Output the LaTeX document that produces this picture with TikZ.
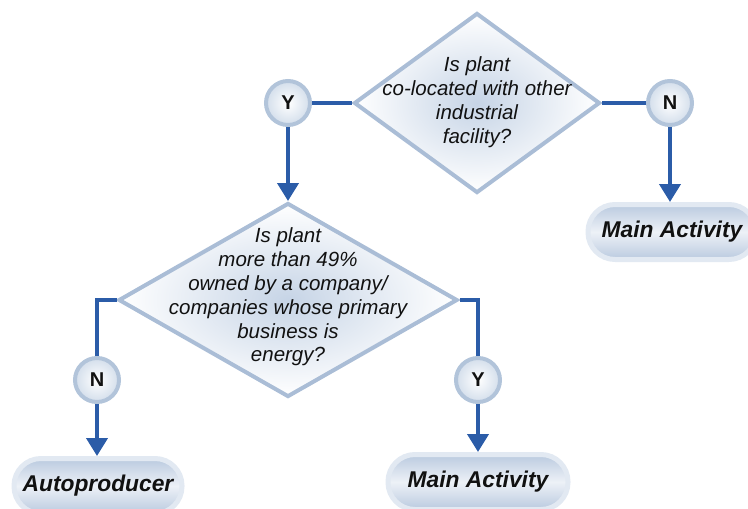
\documentclass[tikz,border=0pt]{standalone}
\usepackage{fontspec}
\setmainfont{Liberation Sans}
\usetikzlibrary{arrows.meta,shapes.geometric,shadings}
\definecolor{lineblue}{HTML}{2B5CA8}
\definecolor{diaedge}{HTML}{AABDD6}
\definecolor{diacore}{HTML}{C6D4E6}
\definecolor{circedge}{HTML}{B2C4DA}
\definecolor{circfill}{HTML}{D3DEEB}
\definecolor{boxhalo}{HTML}{E2E9F2}
\definecolor{boxfill}{HTML}{BACADF}
\definecolor{boxmid}{HTML}{EDF1F7}
\definecolor{txt}{HTML}{111111}
\tikzset{
  dia/.style={shape=diamond, draw=diaedge, line width=4pt, inner sep=0pt,
    inner color=diacore, outer color=white},
  qtext/.style={align=center, text=txt, font=\fontsize{20.5}{23.8}\selectfont\itshape},
  yn/.style={circle, draw=circedge, line width=4pt, minimum size=44pt, inner sep=0pt,
    inner color=white, outer color=circfill, text=txt, font=\fontsize{20}{22}\selectfont\bfseries},
  endbox/.style={rectangle, rounded corners=27pt, draw=boxhalo, line width=5pt,
    minimum height=55pt, inner sep=0pt, top color=boxfill, bottom color=boxfill, middle color=boxmid,
    text=txt, font=\fontsize{22.8}{26}\selectfont\bfseries\itshape},
  conn/.style={draw=lineblue, line width=4pt},
  arr/.style={draw=lineblue, line width=4pt, -{Triangle[width=21pt,length=18pt]}}
}
\begin{document}
\begin{tikzpicture}[x=1pt,y=-1pt]
\useasboundingbox (0,0) rectangle (748,509);
% decisions
\node[dia, minimum width=246pt, minimum height=180pt] (d1) at (477,103) {};
\node[qtext] (t1) at (477,102) {Is plant\\co-located with other\\industrial\\facility?};
\node[dia, minimum width=339pt, minimum height=194pt] (d2) at (288,300) {};
\node[qtext] (t2) at (288,297) {Is plant\\more than 49\%\\owned by a company/\\companies whose primary\\business is\\energy?};
% answers
\node[yn] (y1) at (288,103) {Y};
\node[yn] (n1) at (670,103) {N};
\node[yn] (n2) at (97,380) {N};
\node[yn] (y2) at (478,380) {Y};
% outcomes
\node[endbox, minimum width=168pt] (m1) at (672,232) {Main Activity};
\node[endbox, minimum width=168pt] (a) at (98,486) {Autoproducer};
\node[endbox, minimum width=180pt] (m2) at (478,482) {Main Activity};
% connectors
\draw[conn] (y1.east) -- (d1.west);
\draw[conn] (d1.east) -- (n1.west);
\draw[arr] (y1.south) -- (y1.south |- d2.north);
\draw[arr] (n1.south) -- (n1.south |- m1.north);
\draw[conn] (d2.west) -| (n2.north);
\draw[conn] (d2.east) -| (y2.north);
\draw[arr] (n2.south) -- (n2.south |- a.north);
\draw[arr] (y2.south) -- (y2.south |- m2.north);
\end{tikzpicture}
\end{document}
